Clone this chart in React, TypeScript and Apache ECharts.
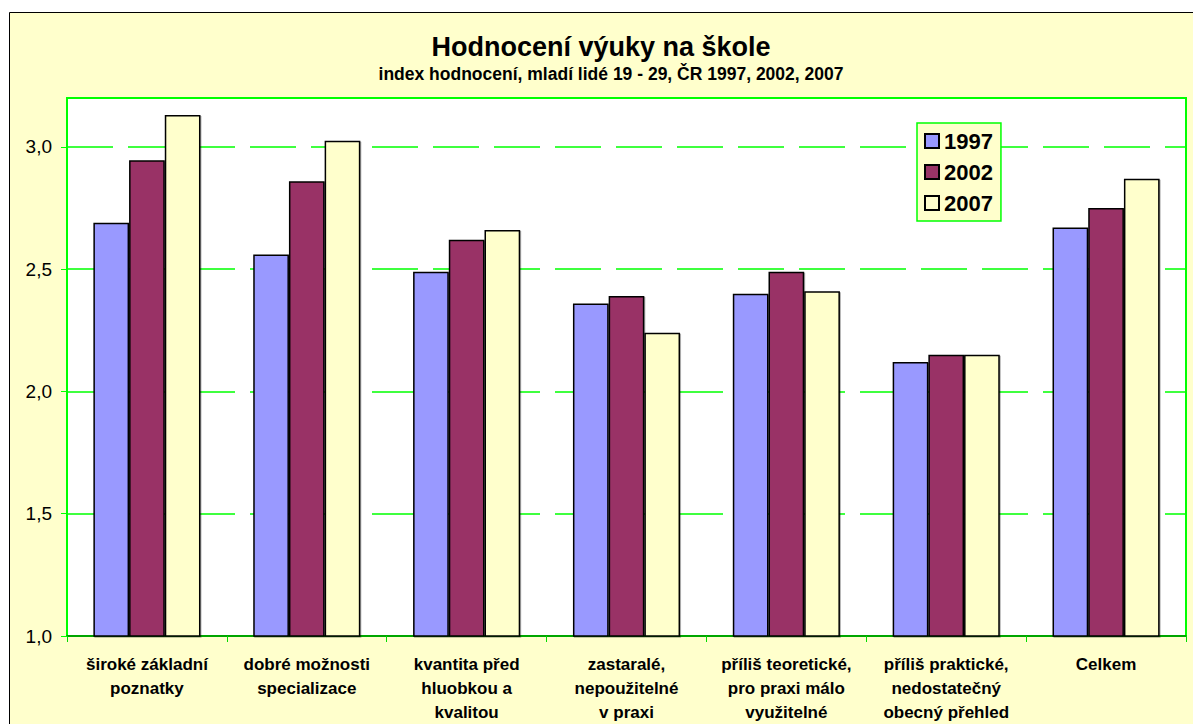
import React, { useEffect, useRef } from "react";
import * as echarts from "echarts";

const categories = [
  "široké základní\npoznatky",
  "dobré možnosti\nspecializace",
  "kvantita před\nhluobkou a\nkvalitou",
  "zastaralé,\nnepoužitelné\nv praxi",
  "příliš teoretické,\npro praxi málo\nvyužitelné",
  "příliš praktické,\nnedostatečný\nobecný přehled",
  "Celkem",
];
const seriesNames = ["1997", "2002", "2007"];
const values1997 = [2.69, 2.56, 2.49, 2.36, 2.4, 2.12, 2.67];
const values2002 = [2.945, 2.86, 2.62, 2.39, 2.49, 2.15, 2.75];
const values2007 = [3.13, 3.025, 2.66, 2.24, 2.41, 2.15, 2.87];
const seriesColors = ["#9999FF", "#993366", "#FFFFCC"];
const titleText = "Hodnocení výuky na škole";
const subtitleText = "index hodnocení, mladí lidé 19 - 29, ČR 1997, 2002, 2007";

const FONT = "'Liberation Sans', Arial, sans-serif";

export default function App() {
  const ref = useRef<HTMLDivElement>(null);
  useEffect(() => {
    if (!ref.current) return;
    const chart = echarts.init(ref.current, null, { renderer: "svg" });
    const data = [values1997, values2002, values2007];
    chart.setOption({
      animation: false,
      backgroundColor: "#FFFFFF",
      graphic: [
        {
          type: "rect",
          z: -10,
          shape: { x: 9.5, y: 12.5, width: 1200, height: 800 },
          style: { fill: "#FFFFCC", stroke: "#000000", lineWidth: 1 },
        },
        {
          type: "text",
          x: 601,
          y: 47,
          style: {
            text: titleText,
            fontSize: 27,
            fontWeight: "bold",
            fontFamily: FONT,
            fill: "#000",
            align: "center",
            verticalAlign: "middle",
          },
        },
        {
          type: "text",
          x: 611,
          y: 74,
          style: {
            text: subtitleText,
            fontSize: 17.5,
            fontWeight: "bold",
            fontFamily: FONT,
            fill: "#000",
            align: "center",
            verticalAlign: "middle",
          },
        },
      ],
      legend: {
        data: seriesNames,
        orient: "vertical",
        left: 917,
        top: 123,
        backgroundColor: "#FFFFCC",
        borderColor: "#00FF00",
        borderWidth: 1.5,
        padding: [7, 8, 7, 7],
        itemGap: 9,
        itemWidth: 14,
        itemHeight: 14,
        itemTextGap: 7,
        icon: "rect",
        textStyle: { fontSize: 22, fontWeight: "bold", fontFamily: FONT, color: "#000" },
      },
      grid: {
        left: 67,
        top: 98,
        right: 7,
        bottom: 82,
        show: true,
        backgroundColor: "#FFFFFF",
        borderColor: "#00FF00",
        borderWidth: 2,
      },
      xAxis: {
        type: "category",
        data: categories,
        axisLine: { lineStyle: { color: "#008800", width: 1.5 } },
        axisTick: { show: true, length: 6, lineStyle: { color: "#00DD00" } },
        axisLabel: {
          interval: 0,
          margin: 16,
          fontSize: 17,
          fontWeight: "bold",
          fontFamily: FONT,
          color: "#000",
          lineHeight: 24,
        },
      },
      yAxis: {
        type: "value",
        min: 1,
        max: 3.2,
        interval: 0.5,
        axisLine: { show: true, lineStyle: { color: "#00FF00", width: 2 } },
        axisTick: { show: true, length: 6, lineStyle: { color: "#00FF00" } },
        axisLabel: {
          showMaxLabel: false,
          margin: 15,
          fontSize: 19,
          fontFamily: FONT,
          color: "#000",
          formatter: (v: number) => v.toFixed(1).replace(".", ","),
        },
        splitLine: {
          show: true,
          lineStyle: { color: "#00FF00", width: 1.5, type: [46, 15] },
        },
      },
      series: seriesNames.map((name, i) => ({
        name,
        type: "bar",
        data: data[i],
        barGap: "0%",
        barCategoryGap: "33%",
        itemStyle: {
          color: seriesColors[i],
          borderColor: "#000000",
          borderWidth: 1.5,
          shadowColor: "rgba(0,0,0,0.3)",
          shadowOffsetX: 1,
          shadowOffsetY: 1,
        },
      })),
    });
    return () => chart.dispose();
  }, []);
  return (
    <div
      ref={ref}
      style={{ position: "fixed", left: 0, top: 0, width: 1193, height: 724 }}
    />
  );
}
